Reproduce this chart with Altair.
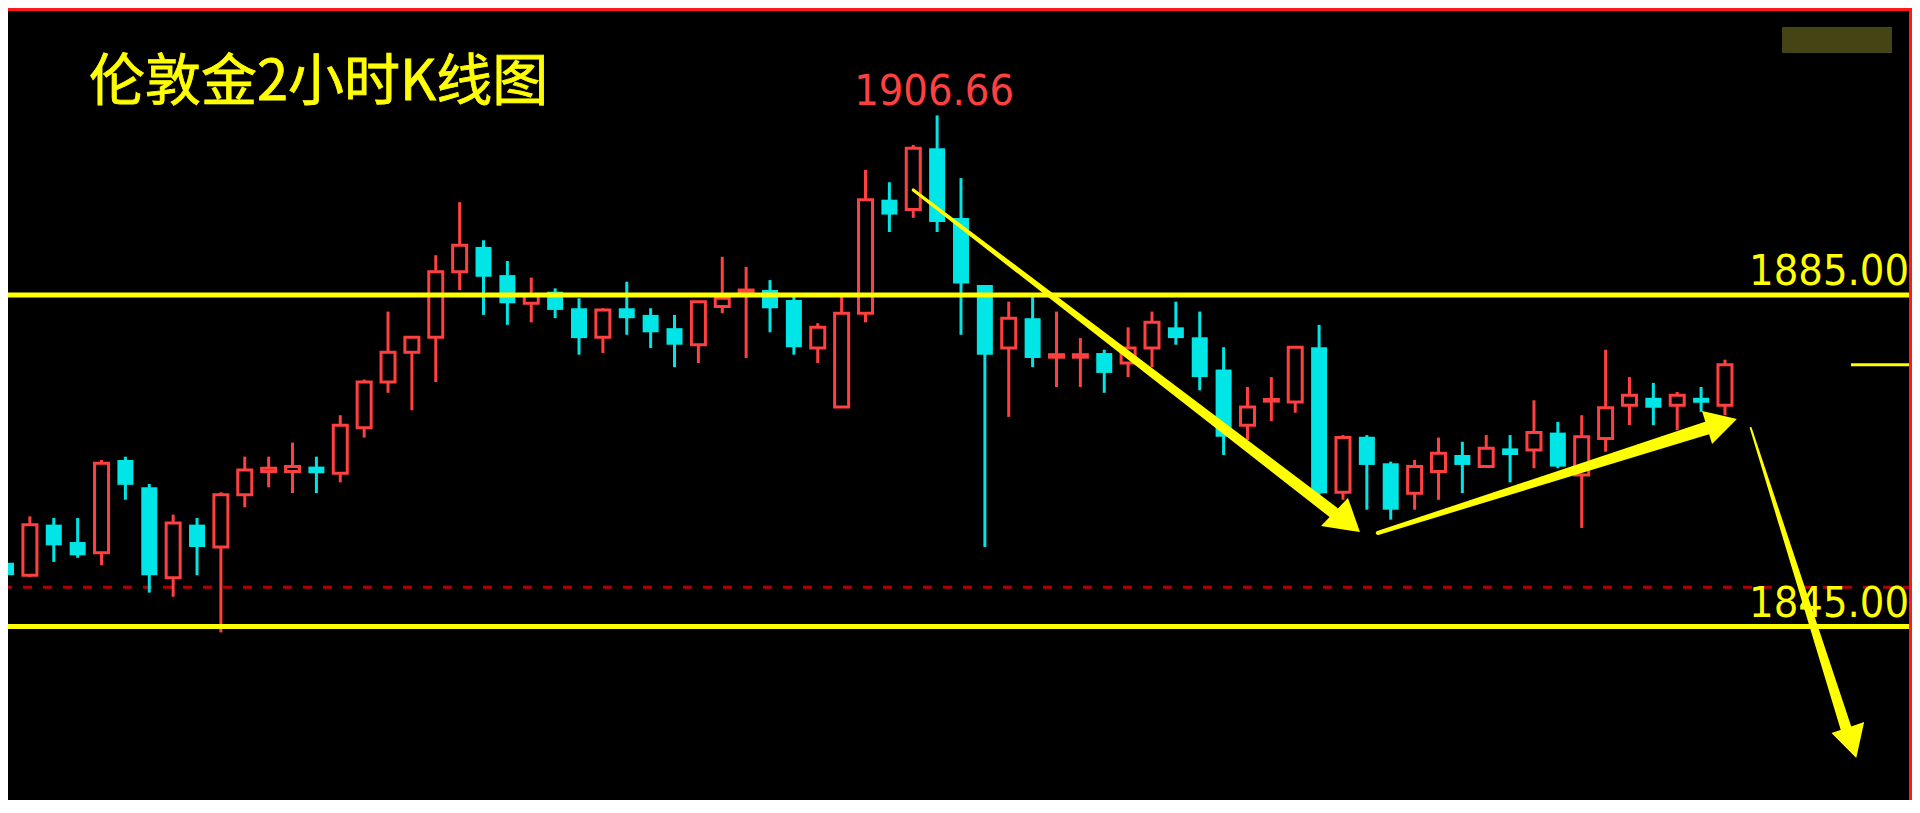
import altair as alt
import pandas as pd

# ---------------- data ----------------
TITLE = "伦敦金2小时K线图"

opens = [1852.7, 1851.2, 1857.3, 1855.2, 1853.9, 1865.1, 1861.8, 1850.9, 1857.3, 1854.6,
         1860.9, 1863.7, 1863.7, 1864.3, 1863.5, 1869.0, 1874.5, 1878.1, 1879.9, 1887.8,
         1890.8, 1887.4, 1884.0, 1885.4, 1883.4, 1879.9, 1883.4, 1882.6, 1881.0, 1879.0,
         1883.6, 1885.4, 1885.6, 1884.4, 1878.6, 1871.5, 1882.8, 1896.5, 1895.3, 1902.7,
         1894.3, 1886.2, 1878.6, 1882.2, 1877.5, 1877.5, 1878.0, 1876.8, 1878.6, 1881.1,
         1879.9, 1876.0, 1869.3, 1872.2, 1872.1, 1878.7, 1861.2, 1867.9, 1864.7, 1861.1,
         1863.7, 1865.7, 1864.3, 1866.5, 1866.3, 1868.4, 1863.3, 1867.7, 1871.7, 1872.6,
         1871.7, 1872.6, 1871.7]
highs = [1854.0, 1858.3, 1858.1, 1858.1, 1865.1, 1865.5, 1862.2, 1858.5, 1858.1, 1861.2,
         1865.5, 1865.5, 1867.2, 1865.5, 1870.5, 1874.8, 1883.0, 1880.0, 1889.8, 1896.2,
         1891.6, 1889.1, 1887.1, 1885.8, 1884.6, 1883.4, 1886.6, 1883.4, 1882.6, 1884.2,
         1889.6, 1888.4, 1886.8, 1884.8, 1881.6, 1884.8, 1900.1, 1898.6, 1903.1, 1906.66,
         1899.1, 1886.2, 1884.2, 1885.0, 1883.0, 1879.8, 1878.4, 1881.1, 1883.0, 1884.2,
         1883.0, 1878.7, 1873.9, 1875.1, 1878.7, 1881.4, 1868.1, 1868.1, 1864.9, 1865.1,
         1867.8, 1867.3, 1868.1, 1868.1, 1872.3, 1869.7, 1870.5, 1878.4, 1875.1, 1874.4,
         1873.3, 1873.9, 1877.2]
lows = [1850.0, 1851.0, 1852.8, 1853.3, 1852.4, 1860.3, 1849.1, 1848.6, 1851.2, 1844.3,
        1859.4, 1861.8, 1861.1, 1861.1, 1862.4, 1867.8, 1873.2, 1871.1, 1874.5, 1885.6,
        1882.6, 1881.4, 1881.7, 1882.2, 1877.8, 1878.0, 1880.2, 1878.6, 1876.3, 1876.8,
        1882.8, 1877.4, 1880.5, 1877.8, 1876.8, 1871.5, 1881.7, 1892.6, 1894.3, 1892.6,
        1880.2, 1854.6, 1870.3, 1876.3, 1873.9, 1873.9, 1873.2, 1875.1, 1876.3, 1879.0,
        1873.5, 1865.7, 1867.5, 1869.8, 1870.8, 1860.9, 1860.3, 1859.1, 1857.9, 1859.1,
        1860.3, 1861.1, 1864.3, 1862.4, 1864.1, 1864.1, 1856.9, 1866.1, 1869.3, 1869.3,
        1868.7, 1870.9, 1870.5]
closes = [1851.2, 1857.3, 1854.8, 1853.6, 1864.7, 1862.1, 1851.2, 1857.5, 1854.6, 1860.9,
          1863.9, 1864.1, 1864.3, 1863.5, 1869.3, 1874.5, 1878.1, 1879.9, 1887.8, 1891.0,
          1887.2, 1884.0, 1885.0, 1883.2, 1879.8, 1883.2, 1882.2, 1880.5, 1879.0, 1884.2,
          1884.6, 1885.6, 1883.4, 1878.7, 1881.1, 1882.8, 1896.5, 1894.7, 1902.7, 1893.8,
          1886.4, 1877.8, 1882.2, 1877.4, 1877.8, 1877.8, 1875.6, 1878.6, 1881.7, 1879.8,
          1875.1, 1867.9, 1871.5, 1872.4, 1878.7, 1861.1, 1867.8, 1864.5, 1859.1, 1864.3,
          1865.9, 1864.5, 1866.5, 1865.7, 1868.4, 1864.3, 1867.9, 1871.4, 1872.9, 1871.4,
          1872.9, 1872.0, 1876.6]

LEVELS = [1885.00, 1845.00]
LEVEL_LABELS = ["1885.00", "1845.00"]
BID_LINE = 1849.74
LAST_PRICE = 1876.6

# hand-drawn arrows (candle index, price)
shaft_arrow = ["a1", "a1", "a2", "a2", "a3", "a3"]
shaft_i = [38.0, 55.58, 57.46, 71.25, 73.08, 77.08]
shaft_p = [1897.67, 1858.82, 1856.29, 1868.96, 1868.96, 1832.65]
shaft_w = [3, 12, 4, 13, 2, 11]

head_arrow = ["a1", "a2", "a3"]
head_pts = [
    [(55.08, 1857.14), (56.21, 1860.52), (56.71, 1856.41)],
    [(71.04, 1871.01), (71.46, 1867.03), (72.50, 1870.04)],
    [(76.46, 1832.17), (77.83, 1833.49), (77.50, 1829.15)],
]

# ---------------- layout ----------------
W, H = 1904, 792
OFF = 8                       # page margin
X0_PX, DX_PX = 1.0, 24.0      # page x of candle 0, candle spacing
Y_REF_PX, Y_REF_P, PX_PER_UNIT = 295.0, 1885.0, 8.29

x_dom = [(OFF - X0_PX) / DX_PX, (OFF + W - X0_PX) / DX_PX]
y_dom = [Y_REF_P - (OFF + H - Y_REF_PX) / PX_PER_UNIT,
         Y_REF_P + (Y_REF_PX - OFF) / PX_PER_UNIT]

xs = alt.Scale(domain=x_dom, zero=False, nice=False)
ys = alt.Scale(domain=y_dom, zero=False, nice=False)

RED = "#FF4040"
CYAN = "#00E5E5"
YELLOW = "#FFFF00"
DASH_RED = "#B00000"
FRAME_RED = "#FF1A1A"
NUM_FONT = "DejaVu Sans Condensed, Liberation Sans Narrow, sans-serif"

n = len(opens)
df = pd.DataFrame({"i": list(range(n)), "open": opens, "high": highs,
                   "low": lows, "close": closes})
df["dir"] = ["up" if c >= o else "down" for o, c in zip(opens, closes)]
df["lo"] = df[["open", "close"]].min(axis=1)
df["hi"] = df[["open", "close"]].max(axis=1)

X = alt.X("i:Q", scale=xs, axis=None)
Y = lambda f: alt.Y(f, scale=ys, axis=None)

wicks = alt.Chart(df).mark_rule(strokeWidth=3).encode(
    x=X, y=Y("low:Q"), y2="high:Q",
    color=alt.Color("dir:N", scale=alt.Scale(domain=["up", "down"], range=[RED, CYAN]), legend=None),
)
up_bodies = alt.Chart(df[df["dir"] == "up"]).mark_bar(
    size=14, fill="black", stroke=RED, strokeWidth=3
).encode(x=X, y=Y("lo:Q"), y2="hi:Q")
down_bodies = alt.Chart(df[df["dir"] == "down"]).mark_bar(
    size=16, color=CYAN
).encode(x=X, y=Y("hi:Q"), y2="lo:Q")

bid = alt.Chart(pd.DataFrame({"p": [BID_LINE]})).mark_rule(
    color=DASH_RED, strokeWidth=3, strokeDash=[9, 11]
).encode(y=Y("p:Q"))

lv_df = pd.DataFrame({"p": LEVELS, "label": LEVEL_LABELS})
levels = alt.Chart(lv_df).mark_rule(color=YELLOW, strokeWidth=5).encode(y=Y("p:Q"))
level_text = alt.Chart(lv_df).mark_text(
    align="right", baseline="alphabetic", dy=-10, font=NUM_FONT, fontSize=43, color=YELLOW
).encode(x=alt.value(W - 3), y=Y("p:Q"), text="label:N")

last = alt.Chart(pd.DataFrame({"p": [LAST_PRICE]})).mark_rule(
    color=YELLOW, strokeWidth=3
).encode(y=Y("p:Q"), x=alt.value(W - 61), x2=alt.value(W))

imax = max(range(n), key=lambda k: highs[k])
hi_df = pd.DataFrame({"i": [imax], "p": [highs[imax]], "label": [f"{highs[imax]:.2f}"]})
hi_text = alt.Chart(hi_df).mark_text(
    align="center", baseline="alphabetic", dy=-10, dx=-3, font=NUM_FONT, fontSize=43, color=RED
).encode(x=X, y=Y("p:Q"), text="label:N")

title = alt.Chart(pd.DataFrame({"t": [TITLE]})).mark_text(
    align="left", baseline="alphabetic", font="Noto Sans CJK SC", fontSize=56,
    color=YELLOW, stroke=YELLOW, strokeWidth=0.8
).encode(x=alt.value(81), y=alt.value(92), text="t:N")

# arrows
sh_df = pd.DataFrame({"arrow": shaft_arrow, "i": shaft_i, "p": shaft_p, "w": shaft_w,
                      "seq": list(range(len(shaft_i)))})
shafts = alt.Chart(sh_df).mark_trail(color=YELLOW).encode(
    x=X, y=Y("p:Q"), size=alt.Size("w:Q", scale=None, legend=None),
    detail="arrow:N", order="seq:Q",
)
rows = []
for name, pts in zip(head_arrow, head_pts):
    (x1, y1), (x2, y2), (x3, y3) = sorted(pts)
    ym = y1 + (y3 - y1) * (x2 - x1) / (x3 - x1)
    rows += [{"arrow": name, "i": x1, "p": y1, "p2": y1},
             {"arrow": name, "i": x2, "p": y2, "p2": ym},
             {"arrow": name, "i": x3, "p": y3, "p2": y3}]
heads = alt.Chart(pd.DataFrame(rows)).mark_area(color=YELLOW, opacity=1).encode(
    x=X, y=Y("p:Q"), y2="p2:Q", detail="arrow:N"
)

one = pd.DataFrame({"a": [0]})
watermark = alt.Chart(one).mark_rect(color="#444414").encode(
    x=alt.value(1774), x2=alt.value(1884), y=alt.value(19), y2=alt.value(45)
)
frame_top = alt.Chart(one).mark_rule(color=FRAME_RED, strokeWidth=3).encode(
    x=alt.value(0), x2=alt.value(W), y=alt.value(1.5)
)
frame_right = alt.Chart(one).mark_rule(color=FRAME_RED, strokeWidth=3).encode(
    x=alt.value(W - 1.5), y=alt.value(0), y2=alt.value(H)
)

chart = alt.layer(
    bid, wicks, up_bodies, down_bodies, levels, last, watermark,
    title, hi_text, level_text, shafts, heads, frame_top, frame_right,
).properties(
    width=W, height=H, background="black", padding=0,
    autosize=alt.AutoSizeParams(type="none"),
).configure_view(strokeWidth=0)

chart.save("out.html", embed_options={"renderer": "svg", "actions": False})
